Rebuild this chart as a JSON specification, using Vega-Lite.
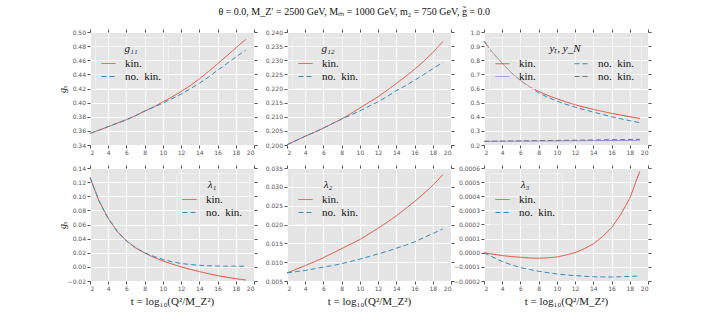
{
  "$schema": "https://vega.github.io/schema/vega-lite/v6.json",
  "padding": {"left": 57, "top": 6, "right": 5, "bottom": 5},
  "title": {"text": "θ = 0.0,  M_Z′ = 2500 GeV,  Mₘ = 1000 GeV,  m₂ = 750 GeV,  g̃ = 0.0", "font": "Liberation Serif", "fontSize": 10, "fontWeight": "normal", "color": "#111111", "anchor": "middle", "offset": 12},
  "data": {"values": [
    {"p":"g11","s":"kin.","t":2,"v":0.3565},{"p":"g11","s":"kin.","t":3,"v":0.361},{"p":"g11","s":"kin.","t":4,"v":0.366},{"p":"g11","s":"kin.","t":5,"v":0.371},{"p":"g11","s":"kin.","t":6,"v":0.3758},{"p":"g11","s":"kin.","t":7,"v":0.3815},{"p":"g11","s":"kin.","t":8,"v":0.388},{"p":"g11","s":"kin.","t":9,"v":0.394},{"p":"g11","s":"kin.","t":10,"v":0.401},{"p":"g11","s":"kin.","t":11,"v":0.408},{"p":"g11","s":"kin.","t":12,"v":0.4158},{"p":"g11","s":"kin.","t":13,"v":0.424},{"p":"g11","s":"kin.","t":14,"v":0.4335},{"p":"g11","s":"kin.","t":15,"v":0.444},{"p":"g11","s":"kin.","t":16,"v":0.455},{"p":"g11","s":"kin.","t":17,"v":0.466},{"p":"g11","s":"kin.","t":18,"v":0.4775},{"p":"g11","s":"kin.","t":19.1,"v":0.4895},
    {"p":"g11","s":"no. kin.","t":2,"v":0.3565},{"p":"g11","s":"no. kin.","t":3,"v":0.361},{"p":"g11","s":"no. kin.","t":4,"v":0.366},{"p":"g11","s":"no. kin.","t":5,"v":0.371},{"p":"g11","s":"no. kin.","t":6,"v":0.3758},{"p":"g11","s":"no. kin.","t":7,"v":0.3815},{"p":"g11","s":"no. kin.","t":8,"v":0.388},{"p":"g11","s":"no. kin.","t":9,"v":0.3935},{"p":"g11","s":"no. kin.","t":10,"v":0.3993},{"p":"g11","s":"no. kin.","t":11,"v":0.4055},{"p":"g11","s":"no. kin.","t":12,"v":0.412},{"p":"g11","s":"no. kin.","t":13,"v":0.4195},{"p":"g11","s":"no. kin.","t":14,"v":0.4275},{"p":"g11","s":"no. kin.","t":15,"v":0.436},{"p":"g11","s":"no. kin.","t":16,"v":0.4459},{"p":"g11","s":"no. kin.","t":17,"v":0.455},{"p":"g11","s":"no. kin.","t":18,"v":0.4645},{"p":"g11","s":"no. kin.","t":19.1,"v":0.4745},
    {"p":"g12","s":"kin.","t":2,"v":0.2001},{"p":"g12","s":"kin.","t":3,"v":0.2016},{"p":"g12","s":"kin.","t":4,"v":0.2031},{"p":"g12","s":"kin.","t":5,"v":0.2045},{"p":"g12","s":"kin.","t":6,"v":0.206},{"p":"g12","s":"kin.","t":7,"v":0.2076},{"p":"g12","s":"kin.","t":8,"v":0.2092},{"p":"g12","s":"kin.","t":9,"v":0.2111},{"p":"g12","s":"kin.","t":10,"v":0.2131},{"p":"g12","s":"kin.","t":11,"v":0.2151},{"p":"g12","s":"kin.","t":12,"v":0.2171},{"p":"g12","s":"kin.","t":13,"v":0.2194},{"p":"g12","s":"kin.","t":14,"v":0.2218},{"p":"g12","s":"kin.","t":15,"v":0.2242},{"p":"g12","s":"kin.","t":16,"v":0.2268},{"p":"g12","s":"kin.","t":17,"v":0.2296},{"p":"g12","s":"kin.","t":18,"v":0.2327},{"p":"g12","s":"kin.","t":19.1,"v":0.2366},
    {"p":"g12","s":"no. kin.","t":2,"v":0.2001},{"p":"g12","s":"no. kin.","t":3,"v":0.2016},{"p":"g12","s":"no. kin.","t":4,"v":0.2031},{"p":"g12","s":"no. kin.","t":5,"v":0.2045},{"p":"g12","s":"no. kin.","t":6,"v":0.206},{"p":"g12","s":"no. kin.","t":7,"v":0.2076},{"p":"g12","s":"no. kin.","t":8,"v":0.2092},{"p":"g12","s":"no. kin.","t":9,"v":0.2106},{"p":"g12","s":"no. kin.","t":10,"v":0.2121},{"p":"g12","s":"no. kin.","t":11,"v":0.2137},{"p":"g12","s":"no. kin.","t":12,"v":0.2153},{"p":"g12","s":"no. kin.","t":13,"v":0.2172},{"p":"g12","s":"no. kin.","t":14,"v":0.2192},{"p":"g12","s":"no. kin.","t":15,"v":0.221},{"p":"g12","s":"no. kin.","t":16,"v":0.2229},{"p":"g12","s":"no. kin.","t":17,"v":0.2249},{"p":"g12","s":"no. kin.","t":18,"v":0.227},{"p":"g12","s":"no. kin.","t":19.1,"v":0.2292},
    {"p":"y","s":"yt kin.","t":2,"v":0.935},{"p":"y","s":"yt kin.","t":3,"v":0.85},{"p":"y","s":"yt kin.","t":4,"v":0.779},{"p":"y","s":"yt kin.","t":5,"v":0.712},{"p":"y","s":"yt kin.","t":6,"v":0.658},{"p":"y","s":"yt kin.","t":7,"v":0.614},{"p":"y","s":"yt kin.","t":8,"v":0.579},{"p":"y","s":"yt kin.","t":9,"v":0.551},{"p":"y","s":"yt kin.","t":10,"v":0.527},{"p":"y","s":"yt kin.","t":11,"v":0.505},{"p":"y","s":"yt kin.","t":12,"v":0.485},{"p":"y","s":"yt kin.","t":13,"v":0.468},{"p":"y","s":"yt kin.","t":14,"v":0.452},{"p":"y","s":"yt kin.","t":15,"v":0.438},{"p":"y","s":"yt kin.","t":16,"v":0.424},{"p":"y","s":"yt kin.","t":17,"v":0.412},{"p":"y","s":"yt kin.","t":18,"v":0.4},{"p":"y","s":"yt kin.","t":19.1,"v":0.388},
    {"p":"y","s":"yt no. kin.","t":2,"v":0.935},{"p":"y","s":"yt no. kin.","t":3,"v":0.85},{"p":"y","s":"yt no. kin.","t":4,"v":0.779},{"p":"y","s":"yt no. kin.","t":5,"v":0.712},{"p":"y","s":"yt no. kin.","t":6,"v":0.656},{"p":"y","s":"yt no. kin.","t":7,"v":0.608},{"p":"y","s":"yt no. kin.","t":8,"v":0.569},{"p":"y","s":"yt no. kin.","t":9,"v":0.538},{"p":"y","s":"yt no. kin.","t":10,"v":0.511},{"p":"y","s":"yt no. kin.","t":11,"v":0.488},{"p":"y","s":"yt no. kin.","t":12,"v":0.468},{"p":"y","s":"yt no. kin.","t":13,"v":0.45},{"p":"y","s":"yt no. kin.","t":14,"v":0.433},{"p":"y","s":"yt no. kin.","t":15,"v":0.416},{"p":"y","s":"yt no. kin.","t":16,"v":0.4},{"p":"y","s":"yt no. kin.","t":17,"v":0.386},{"p":"y","s":"yt no. kin.","t":18,"v":0.372},{"p":"y","s":"yt no. kin.","t":19.1,"v":0.358},
    {"p":"y","s":"yN kin.","t":2,"v":0.226},{"p":"y","s":"yN kin.","t":5,"v":0.227},{"p":"y","s":"yN kin.","t":8,"v":0.228},{"p":"y","s":"yN kin.","t":11,"v":0.2295},{"p":"y","s":"yN kin.","t":14,"v":0.231},{"p":"y","s":"yN kin.","t":17,"v":0.232},{"p":"y","s":"yN kin.","t":19.1,"v":0.233},
    {"p":"y","s":"yN no. kin.","t":2,"v":0.226},{"p":"y","s":"yN no. kin.","t":5,"v":0.2285},{"p":"y","s":"yN no. kin.","t":8,"v":0.231},{"p":"y","s":"yN no. kin.","t":11,"v":0.2335},{"p":"y","s":"yN no. kin.","t":14,"v":0.236},{"p":"y","s":"yN no. kin.","t":17,"v":0.2385},{"p":"y","s":"yN no. kin.","t":19.1,"v":0.24},
    {"p":"l1","s":"kin.","t":2,"v":0.1267},{"p":"l1","s":"kin.","t":3,"v":0.093},{"p":"l1","s":"kin.","t":4,"v":0.0687},{"p":"l1","s":"kin.","t":5,"v":0.05},{"p":"l1","s":"kin.","t":6,"v":0.0368},{"p":"l1","s":"kin.","t":7,"v":0.027},{"p":"l1","s":"kin.","t":8,"v":0.0197},{"p":"l1","s":"kin.","t":9,"v":0.0135},{"p":"l1","s":"kin.","t":10,"v":0.0085},{"p":"l1","s":"kin.","t":11,"v":0.004},{"p":"l1","s":"kin.","t":12,"v":0.0},{"p":"l1","s":"kin.","t":13,"v":-0.0035},{"p":"l1","s":"kin.","t":14,"v":-0.0067},{"p":"l1","s":"kin.","t":15,"v":-0.0097},{"p":"l1","s":"kin.","t":16,"v":-0.0124},{"p":"l1","s":"kin.","t":17,"v":-0.0147},{"p":"l1","s":"kin.","t":18,"v":-0.0167},{"p":"l1","s":"kin.","t":19.1,"v":-0.0186},
    {"p":"l1","s":"no. kin.","t":2,"v":0.1267},{"p":"l1","s":"no. kin.","t":3,"v":0.093},{"p":"l1","s":"no. kin.","t":4,"v":0.0687},{"p":"l1","s":"no. kin.","t":5,"v":0.05},{"p":"l1","s":"no. kin.","t":6,"v":0.0368},{"p":"l1","s":"no. kin.","t":7,"v":0.027},{"p":"l1","s":"no. kin.","t":8,"v":0.0199},{"p":"l1","s":"no. kin.","t":9,"v":0.0148},{"p":"l1","s":"no. kin.","t":10,"v":0.0105},{"p":"l1","s":"no. kin.","t":11,"v":0.0072},{"p":"l1","s":"no. kin.","t":12,"v":0.0048},{"p":"l1","s":"no. kin.","t":13,"v":0.0033},{"p":"l1","s":"no. kin.","t":14,"v":0.0023},{"p":"l1","s":"no. kin.","t":15,"v":0.0016},{"p":"l1","s":"no. kin.","t":16,"v":0.0012},{"p":"l1","s":"no. kin.","t":17,"v":0.001},{"p":"l1","s":"no. kin.","t":18,"v":0.001},{"p":"l1","s":"no. kin.","t":19.1,"v":0.001},
    {"p":"l2","s":"kin.","t":2,"v":0.00714},{"p":"l2","s":"kin.","t":3,"v":0.0081},{"p":"l2","s":"kin.","t":4,"v":0.0091},{"p":"l2","s":"kin.","t":5,"v":0.0101},{"p":"l2","s":"kin.","t":6,"v":0.0112},{"p":"l2","s":"kin.","t":7,"v":0.0124},{"p":"l2","s":"kin.","t":8,"v":0.0136},{"p":"l2","s":"kin.","t":9,"v":0.0148},{"p":"l2","s":"kin.","t":10,"v":0.016},{"p":"l2","s":"kin.","t":11,"v":0.0175},{"p":"l2","s":"kin.","t":12,"v":0.019},{"p":"l2","s":"kin.","t":13,"v":0.0206},{"p":"l2","s":"kin.","t":14,"v":0.0223},{"p":"l2","s":"kin.","t":15,"v":0.0242},{"p":"l2","s":"kin.","t":16,"v":0.0261},{"p":"l2","s":"kin.","t":17,"v":0.0282},{"p":"l2","s":"kin.","t":18,"v":0.0304},{"p":"l2","s":"kin.","t":19.1,"v":0.0332},
    {"p":"l2","s":"no. kin.","t":2,"v":0.00714},{"p":"l2","s":"no. kin.","t":3,"v":0.0075},{"p":"l2","s":"no. kin.","t":4,"v":0.0078},{"p":"l2","s":"no. kin.","t":5,"v":0.00825},{"p":"l2","s":"no. kin.","t":6,"v":0.0087},{"p":"l2","s":"no. kin.","t":7,"v":0.0091},{"p":"l2","s":"no. kin.","t":8,"v":0.0096},{"p":"l2","s":"no. kin.","t":9,"v":0.0102},{"p":"l2","s":"no. kin.","t":10,"v":0.0108},{"p":"l2","s":"no. kin.","t":11,"v":0.0115},{"p":"l2","s":"no. kin.","t":12,"v":0.0122},{"p":"l2","s":"no. kin.","t":13,"v":0.0129},{"p":"l2","s":"no. kin.","t":14,"v":0.0137},{"p":"l2","s":"no. kin.","t":15,"v":0.0145},{"p":"l2","s":"no. kin.","t":16,"v":0.0154},{"p":"l2","s":"no. kin.","t":17,"v":0.0165},{"p":"l2","s":"no. kin.","t":18,"v":0.0176},{"p":"l2","s":"no. kin.","t":19.1,"v":0.0188},
    {"p":"l3","s":"kin.","t":2,"v":0.0},{"p":"l3","s":"kin.","t":3,"v":-0.00001},{"p":"l3","s":"kin.","t":4,"v":-0.00002},{"p":"l3","s":"kin.","t":5,"v":-0.000027},{"p":"l3","s":"kin.","t":6,"v":-0.000032},{"p":"l3","s":"kin.","t":7,"v":-0.000037},{"p":"l3","s":"kin.","t":8,"v":-0.000039},{"p":"l3","s":"kin.","t":9,"v":-0.000036},{"p":"l3","s":"kin.","t":10,"v":-0.00003},{"p":"l3","s":"kin.","t":11,"v":-0.000016},{"p":"l3","s":"kin.","t":12,"v":0.000001},{"p":"l3","s":"kin.","t":13,"v":0.000028},{"p":"l3","s":"kin.","t":14,"v":0.000063},{"p":"l3","s":"kin.","t":15,"v":0.000114},{"p":"l3","s":"kin.","t":16,"v":0.000177},{"p":"l3","s":"kin.","t":17,"v":0.00027},{"p":"l3","s":"kin.","t":18,"v":0.000386},{"p":"l3","s":"kin.","t":19.1,"v":0.000576},
    {"p":"l3","s":"no. kin.","t":2,"v":0.0},{"p":"l3","s":"no. kin.","t":3,"v":-0.000032},{"p":"l3","s":"no. kin.","t":4,"v":-0.000062},{"p":"l3","s":"no. kin.","t":5,"v":-0.000085},{"p":"l3","s":"no. kin.","t":6,"v":-0.000105},{"p":"l3","s":"no. kin.","t":7,"v":-0.000119},{"p":"l3","s":"no. kin.","t":8,"v":-0.000131},{"p":"l3","s":"no. kin.","t":9,"v":-0.000141},{"p":"l3","s":"no. kin.","t":10,"v":-0.00015},{"p":"l3","s":"no. kin.","t":11,"v":-0.000157},{"p":"l3","s":"no. kin.","t":12,"v":-0.000162},{"p":"l3","s":"no. kin.","t":13,"v":-0.000166},{"p":"l3","s":"no. kin.","t":14,"v":-0.00017},{"p":"l3","s":"no. kin.","t":15,"v":-0.000171},{"p":"l3","s":"no. kin.","t":16,"v":-0.000172},{"p":"l3","s":"no. kin.","t":17,"v":-0.00017},{"p":"l3","s":"no. kin.","t":18,"v":-0.000167},{"p":"l3","s":"no. kin.","t":19.1,"v":-0.000165}
  ]},
  "columns": 3,
  "spacing": {"column": 33, "row": 23},
  "bounds": "flush",
  "concat": [
      {"width": 164, "height": 113, "transform": [{"filter": "datum.p == 'g11'"}],
       "layer": [
        {"mark": {"type": "line", "strokeWidth": 1},
         "encoding": {
          "x": {"field": "t", "type": "quantitative", "scale": {"domain": [2, 20], "nice": false}, "axis": {"values": [2,4,6,8,10,12,14,16,18,20], "title": null}},
          "y": {"field": "v", "type": "quantitative", "scale": {"domain": [0.34, 0.5], "nice": false, "zero": false}, "axis": {"values": [0.34,0.36,0.38,0.4,0.42,0.44,0.46,0.48,0.5], "format": ".2f", "title": "gₓ", "titleX": -28, "titleBaseline": "middle"}},
          "color": {"field": "s", "type": "nominal", "scale": {"domain": ["kin.", "no. kin."], "range": ["#E24A33", "#348ABD"]}, "legend": {"title": "g₁₁", "orient": "top-left", "labelExpr": "replace(datum.label, ' ', '\u2002')"}},
          "strokeDash": {"field": "s", "type": "nominal", "scale": {"domain": ["kin.", "no. kin."], "range": [[1, 0], [5, 3]]}, "legend": {"title": "g₁₁", "orient": "top-left", "labelExpr": "replace(datum.label, ' ', '\u2002')"}}
         }},
        {"mark": {"type": "line", "opacity": 0},
         "encoding": {
          "x": {"field": "t", "type": "quantitative", "axis": {"orient": "top", "values": [2,4,6,8,10,12,14,16,18,20], "labels": false, "grid": false, "title": null}},
          "y": {"field": "v", "type": "quantitative", "axis": {"orient": "right", "values": [0.34,0.36,0.38,0.4,0.42,0.44,0.46,0.48,0.5], "labels": false, "grid": false, "title": null}}
         }}
       ],
       "resolve": {"axis": {"x": "independent", "y": "independent"}}
      },
      {"width": 164, "height": 113, "transform": [{"filter": "datum.p == 'g12'"}],
       "layer": [
        {"mark": {"type": "line", "strokeWidth": 1},
         "encoding": {
          "x": {"field": "t", "type": "quantitative", "scale": {"domain": [2, 20], "nice": false}, "axis": {"values": [2,4,6,8,10,12,14,16,18,20], "title": null}},
          "y": {"field": "v", "type": "quantitative", "scale": {"domain": [0.2, 0.24], "nice": false, "zero": false}, "axis": {"values": [0.2,0.205,0.21,0.215,0.22,0.225,0.23,0.235,0.24], "format": ".3f", "title": null}},
          "color": {"field": "s", "type": "nominal", "scale": {"domain": ["kin.", "no. kin."], "range": ["#E24A33", "#348ABD"]}, "legend": {"title": "g₁₂", "orient": "top-left", "labelExpr": "replace(datum.label, ' ', '\u2002')"}},
          "strokeDash": {"field": "s", "type": "nominal", "scale": {"domain": ["kin.", "no. kin."], "range": [[1, 0], [5, 3]]}, "legend": {"title": "g₁₂", "orient": "top-left", "labelExpr": "replace(datum.label, ' ', '\u2002')"}}
         }},
        {"mark": {"type": "line", "opacity": 0},
         "encoding": {
          "x": {"field": "t", "type": "quantitative", "axis": {"orient": "top", "values": [2,4,6,8,10,12,14,16,18,20], "labels": false, "grid": false, "title": null}},
          "y": {"field": "v", "type": "quantitative", "axis": {"orient": "right", "values": [0.2,0.205,0.21,0.215,0.22,0.225,0.23,0.235,0.24], "labels": false, "grid": false, "title": null}}
         }}
       ],
       "resolve": {"axis": {"x": "independent", "y": "independent"}}
      },
      {"width": 164, "height": 113, "transform": [{"filter": "datum.p == 'y'"}],
       "layer": [
        {"mark": {"type": "line", "strokeWidth": 1},
         "encoding": {
          "x": {"field": "t", "type": "quantitative", "scale": {"domain": [2, 20], "nice": false}, "axis": {"values": [2,4,6,8,10,12,14,16,18,20], "title": null}},
          "y": {"field": "v", "type": "quantitative", "scale": {"domain": [0.2, 1.0], "nice": false, "zero": false}, "axis": {"values": [0.2,0.3,0.4,0.5,0.6,0.7,0.8,0.9,1.0], "format": ".1f", "title": null}},
          "color": {"field": "s", "type": "nominal", "scale": {"domain": ["yt kin.", "yN kin.", "yt no. kin.", "yN no. kin."], "range": ["#E24A33", "#988ED5", "#348ABD", "#777777"]}, "legend": {"title": "yₜ, y_N", "orient": "top-left", "columns": 2, "columnPadding": 36, "labelExpr": "indexof(datum.label, 'no.') >= 0 ? 'no.\u2002kin.' : 'kin.'"}},
          "strokeDash": {"field": "s", "type": "nominal", "scale": {"domain": ["yt kin.", "yN kin.", "yt no. kin.", "yN no. kin."], "range": [[1, 0], [1, 0], [5, 3], [5, 3]]}, "legend": {"title": "yₜ, y_N", "orient": "top-left", "columns": 2, "columnPadding": 36, "labelExpr": "indexof(datum.label, 'no.') >= 0 ? 'no.\u2002kin.' : 'kin.'"}}
         }},
        {"mark": {"type": "line", "opacity": 0},
         "encoding": {
          "x": {"field": "t", "type": "quantitative", "axis": {"orient": "top", "values": [2,4,6,8,10,12,14,16,18,20], "labels": false, "grid": false, "title": null}},
          "y": {"field": "v", "type": "quantitative", "axis": {"orient": "right", "values": [0.2,0.3,0.4,0.5,0.6,0.7,0.8,0.9,1.0], "labels": false, "grid": false, "title": null}}
         }}
       ],
       "resolve": {"axis": {"x": "independent", "y": "independent"}}
      },
      {"width": 164, "height": 113, "transform": [{"filter": "datum.p == 'l1'"}],
       "layer": [
        {"mark": {"type": "line", "strokeWidth": 1},
         "encoding": {
          "x": {"field": "t", "type": "quantitative", "scale": {"domain": [2, 20], "nice": false}, "axis": {"values": [2,4,6,8,10,12,14,16,18,20], "title": "t = log₁₀(Q²/M_Z²)"}},
          "y": {"field": "v", "type": "quantitative", "scale": {"domain": [-0.02, 0.14], "nice": false, "zero": false}, "axis": {"values": [-0.02,0,0.02,0.04,0.06,0.08,0.1,0.12,0.14], "format": ".2f", "title": "gₓ", "titleX": -28, "titleBaseline": "middle"}},
          "color": {"field": "s", "type": "nominal", "scale": {"domain": ["kin.", "no. kin."], "range": ["#E24A33", "#348ABD"]}, "legend": {"title": "λ₁", "orient": "top-right", "labelExpr": "replace(datum.label, ' ', '\u2002')"}},
          "strokeDash": {"field": "s", "type": "nominal", "scale": {"domain": ["kin.", "no. kin."], "range": [[1, 0], [5, 3]]}, "legend": {"title": "λ₁", "orient": "top-right", "labelExpr": "replace(datum.label, ' ', '\u2002')"}}
         }},
        {"mark": {"type": "line", "opacity": 0},
         "encoding": {
          "x": {"field": "t", "type": "quantitative", "axis": {"orient": "top", "values": [2,4,6,8,10,12,14,16,18,20], "labels": false, "grid": false, "title": null}},
          "y": {"field": "v", "type": "quantitative", "axis": {"orient": "right", "values": [-0.02,0,0.02,0.04,0.06,0.08,0.1,0.12,0.14], "labels": false, "grid": false, "title": null}}
         }}
       ],
       "resolve": {"axis": {"x": "independent", "y": "independent"}}
      },
      {"width": 164, "height": 113, "transform": [{"filter": "datum.p == 'l2'"}],
       "layer": [
        {"mark": {"type": "line", "strokeWidth": 1},
         "encoding": {
          "x": {"field": "t", "type": "quantitative", "scale": {"domain": [2, 20], "nice": false}, "axis": {"values": [2,4,6,8,10,12,14,16,18,20], "title": "t = log₁₀(Q²/M_Z²)"}},
          "y": {"field": "v", "type": "quantitative", "scale": {"domain": [0.005, 0.035], "nice": false, "zero": false}, "axis": {"values": [0.005,0.01,0.015,0.02,0.025,0.03,0.035], "format": ".3f", "title": null}},
          "color": {"field": "s", "type": "nominal", "scale": {"domain": ["kin.", "no. kin."], "range": ["#E24A33", "#348ABD"]}, "legend": {"title": "λ₂", "orient": "top-left", "labelExpr": "replace(datum.label, ' ', '\u2002')"}},
          "strokeDash": {"field": "s", "type": "nominal", "scale": {"domain": ["kin.", "no. kin."], "range": [[1, 0], [5, 3]]}, "legend": {"title": "λ₂", "orient": "top-left", "labelExpr": "replace(datum.label, ' ', '\u2002')"}}
         }},
        {"mark": {"type": "line", "opacity": 0},
         "encoding": {
          "x": {"field": "t", "type": "quantitative", "axis": {"orient": "top", "values": [2,4,6,8,10,12,14,16,18,20], "labels": false, "grid": false, "title": null}},
          "y": {"field": "v", "type": "quantitative", "axis": {"orient": "right", "values": [0.005,0.01,0.015,0.02,0.025,0.03,0.035], "labels": false, "grid": false, "title": null}}
         }}
       ],
       "resolve": {"axis": {"x": "independent", "y": "independent"}}
      },
      {"width": 164, "height": 113, "transform": [{"filter": "datum.p == 'l3'"}],
       "layer": [
        {"mark": {"type": "line", "strokeWidth": 1},
         "encoding": {
          "x": {"field": "t", "type": "quantitative", "scale": {"domain": [2, 20], "nice": false}, "axis": {"values": [2,4,6,8,10,12,14,16,18,20], "title": "t = log₁₀(Q²/M_Z²)"}},
          "y": {"field": "v", "type": "quantitative", "scale": {"domain": [-0.0002, 0.0006], "nice": false, "zero": false}, "axis": {"values": [-0.0002,-0.0001,0,0.0001,0.0002,0.0003,0.0004,0.0005,0.0006], "format": ".4f", "title": null}},
          "color": {"field": "s", "type": "nominal", "scale": {"domain": ["kin.", "no. kin."], "range": ["#E24A33", "#348ABD"]}, "legend": {"title": "λ₃", "orient": "top-left", "labelExpr": "replace(datum.label, ' ', '\u2002')"}},
          "strokeDash": {"field": "s", "type": "nominal", "scale": {"domain": ["kin.", "no. kin."], "range": [[1, 0], [5, 3]]}, "legend": {"title": "λ₃", "orient": "top-left", "labelExpr": "replace(datum.label, ' ', '\u2002')"}}
         }},
        {"mark": {"type": "line", "opacity": 0},
         "encoding": {
          "x": {"field": "t", "type": "quantitative", "axis": {"orient": "top", "values": [2,4,6,8,10,12,14,16,18,20], "labels": false, "grid": false, "title": null}},
          "y": {"field": "v", "type": "quantitative", "axis": {"orient": "right", "values": [-0.0002,-0.0001,0,0.0001,0.0002,0.0003,0.0004,0.0005,0.0006], "labels": false, "grid": false, "title": null}}
         }}
       ],
       "resolve": {"axis": {"x": "independent", "y": "independent"}}
      }
  ],
  "resolve": {"scale": {"color": "independent", "strokeDash": "independent"}, "legend": {"color": "independent", "strokeDash": "independent"}},
  "config": {
    "view": {"fill": "#E5E5E5", "stroke": null},
    "axis": {"domain": false, "grid": true, "gridColor": "#FFFFFF", "gridWidth": 1, "tickColor": "#555555", "tickSize": 3, "labelFont": "DejaVu Sans", "labelFontSize": 6, "labelColor": "#555555", "labelPadding": 1.5, "titleFont": "Liberation Serif", "titleFontWeight": "normal", "titleColor": "#222222", "titleFontSize": 11, "titlePadding": 4},
    "axisY": {"titleFontSize": 10, "titleFontStyle": "italic"},
    "legend": {"offset": 5, "fillColor": "rgba(232,232,232,0.4)", "strokeColor": "#F0F0F0", "padding": 6, "cornerRadius": 2, "titleFont": "Liberation Serif", "titleFontSize": 11, "titleFontStyle": "italic", "titleFontWeight": "normal", "titleColor": "#111111", "titleAnchor": "middle", "titlePadding": 2, "labelFont": "Liberation Serif", "labelFontSize": 11, "labelColor": "#111111", "labelOffset": 9, "rowPadding": 0, "symbolType": "stroke", "symbolSize": 196, "symbolStrokeWidth": 1}
  }
}
